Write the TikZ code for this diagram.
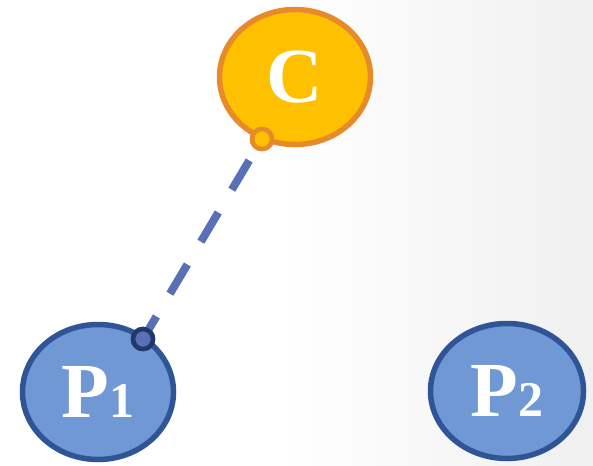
\documentclass[tikz,border=0pt]{standalone}
\usepackage{fontspec}
\setmainfont{Liberation Serif}
\definecolor{cfill}{HTML}{FFC000}
\definecolor{cline}{HTML}{E68A2A}
\definecolor{pfill}{HTML}{7098D5}
\definecolor{pline}{HTML}{2F5597}
\definecolor{link}{HTML}{5A70B6}
\definecolor{pdot}{HTML}{1F3A6A}
\tikzset{
  blob/.style={ellipse, minimum width=151pt, minimum height=135pt, inner sep=0pt,
    line width=5.5pt, font=\bfseries\fontsize{78}{78}\selectfont, text=white},
  cblob/.style={blob, draw=cline, fill=cfill},
  pblob/.style={blob, draw=pline, fill=pfill},
  joint/.style={circle, minimum size=20pt, inner sep=0pt, line width=4.5pt},
  link/.style={draw=link, line width=8pt, dash pattern=on 34pt off 26.5pt, dash phase=35.5pt}
}
\usetikzlibrary{shapes.geometric}
\newcommand{\dig}[1]{{\fontsize{50}{50}\selectfont #1}}
\begin{document}
\begin{tikzpicture}[x=1pt, y=-1pt]
  % backdrop: white, fading to light grey on the right
  \useasboundingbox (0,0) rectangle (593,465);
  \fill[white] (0,0) rectangle (593,465);
  \shade[left color=white, right color=black!6] (280,0) rectangle (593,465);

  \node[cblob] (C) at (295,77) {C};
  \node[pblob] (P1) at (98,392) {P\dig{1}};
  \node[pblob, minimum width=153pt] (P2) at (507,391) {P\dig{2}};

  \node[joint, draw=cline, fill=cfill] (cj) at (262,139) {};
  \node[joint, draw=pdot, fill=link] (pj) at (143,339) {};

  \draw[link] (cj.center) -- (pj.center);
  \node[joint, draw=cline, fill=cfill] at (cj) {};
  \node[joint, draw=pdot, fill=link] at (pj) {};
\end{tikzpicture}
\end{document}
